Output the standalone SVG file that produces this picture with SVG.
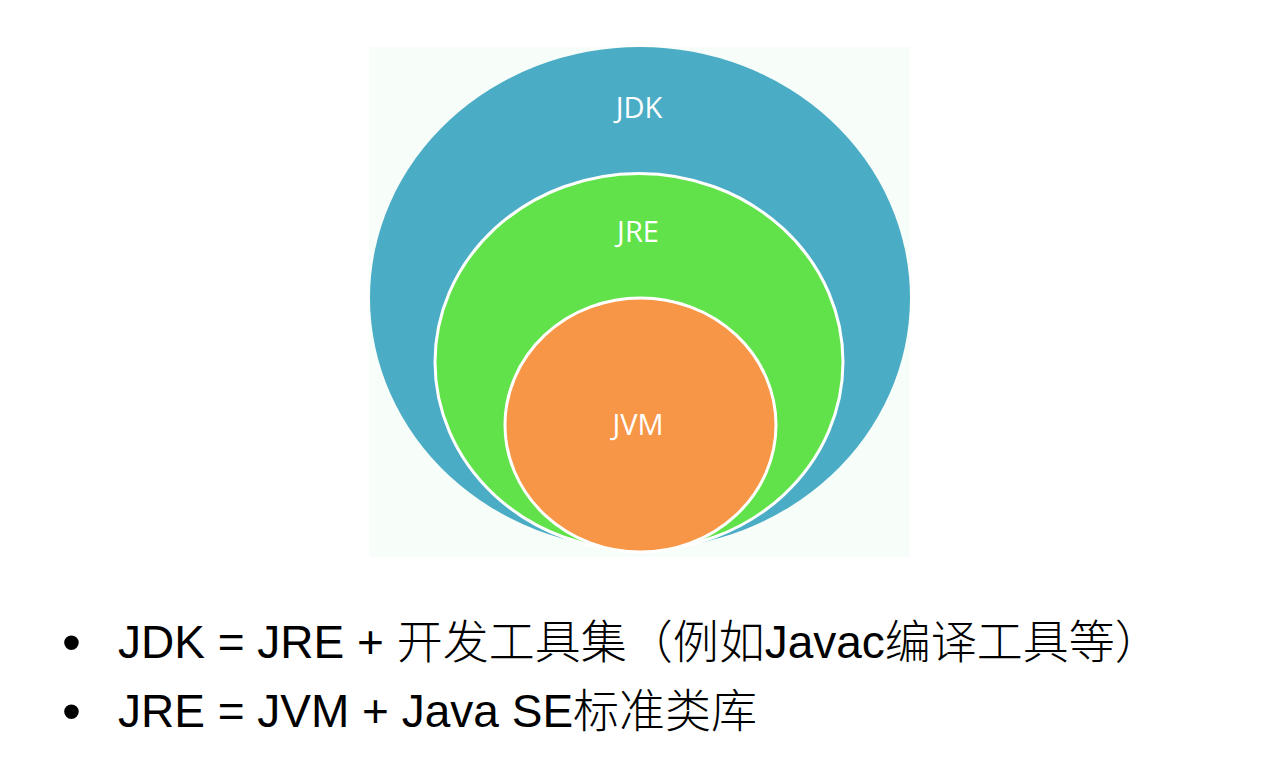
<svg xmlns="http://www.w3.org/2000/svg" width="1275" height="761" viewBox="0 0 1275 761">
<style>
.lbl{font-family:"Open Sans","Noto Sans",sans-serif;font-size:29px;fill:#ffffff;text-anchor:middle}
.line{font-family:"Liberation Sans","Noto Sans CJK SC",sans-serif;font-size:46px;fill:#000000}
.cjk{font-family:"Noto Sans CJK SC",sans-serif;font-weight:300}
.bullet{font-family:"Liberation Sans",sans-serif;font-size:54px;fill:#000000}
</style>
<rect width="1275" height="761" fill="#ffffff"/>
<rect x="369" y="47" width="541" height="510" fill="#f7fdf9"/>
<g id="jdk">
<ellipse cx="640" cy="298" rx="270" ry="251" fill="#4bacc6"/>
<text class="lbl" x="639" y="118">JDK</text>
</g>
<g id="jre">
<ellipse cx="639" cy="362" rx="204" ry="188.5" fill="#62e24a" stroke="#ffffff" stroke-width="3"/>
<text class="lbl" x="638" y="242">JRE</text>
</g>
<g id="jvm">
<ellipse cx="640.5" cy="425" rx="135.5" ry="127" fill="#f79646" stroke="#ffffff" stroke-width="3"/>
<text class="lbl" x="638" y="435">JVM</text>
</g>
<g id="connectors"></g>
<g id="notes">
<text class="bullet" x="62" y="661">•</text>
<text class="line" x="118" y="658">JDK = JRE + <tspan class="cjk">开发工具集（例如</tspan>Javac<tspan class="cjk">编译工具等）</tspan></text>
<text class="bullet" x="62" y="730">•</text>
<text class="line" x="118" y="727">JRE = JVM + Java SE<tspan class="cjk">标准类库</tspan></text>
</g>
</svg>
